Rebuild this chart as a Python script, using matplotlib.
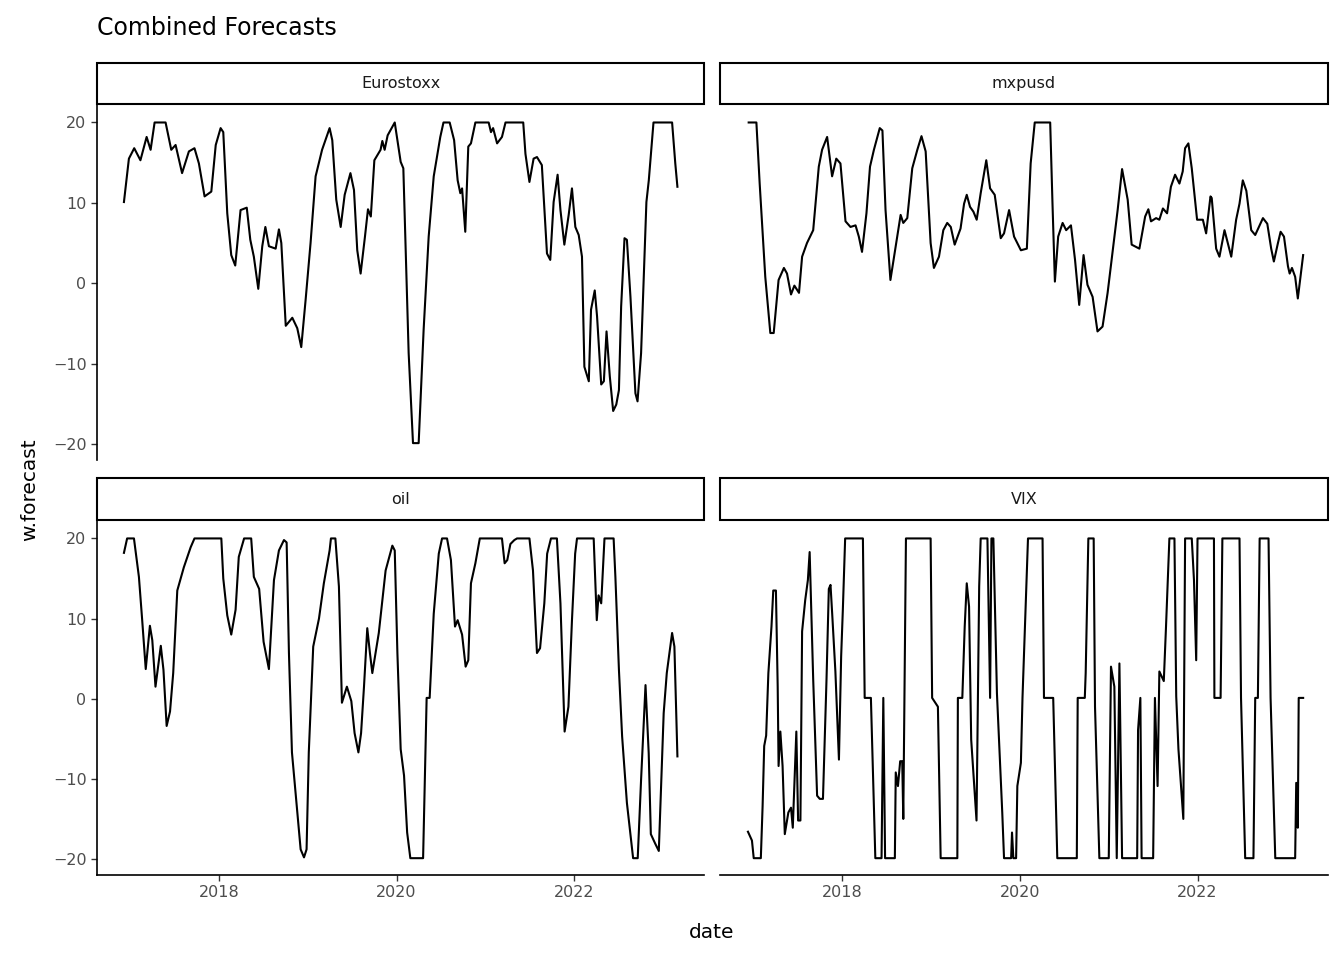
import matplotlib
matplotlib.use("Agg")
import matplotlib.pyplot as plt
from matplotlib.patches import Rectangle

# (decimal year, value) pairs
eurostoxx_t = [2016.924, 2016.98, 2017.04, 2017.11, 2017.18, 2017.225, 2017.27, 2017.394, 2017.458, 2017.507,
               2017.58, 2017.657, 2017.72, 2017.77, 2017.834, 2017.91, 2017.96, 2018.015, 2018.045, 2018.09,
               2018.135, 2018.18, 2018.24, 2018.31, 2018.35, 2018.39, 2018.44, 2018.485, 2018.52, 2018.56,
               2018.636, 2018.673, 2018.70, 2018.75, 2018.824, 2018.88, 2018.925, 2018.974, 2019.03, 2019.087,
               2019.16, 2019.245, 2019.275, 2019.32, 2019.37, 2019.415, 2019.48, 2019.52, 2019.557, 2019.595,
               2019.644, 2019.678, 2019.71, 2019.75, 2019.82, 2019.84, 2019.866, 2019.90, 2019.98, 2020.047,
               2020.077, 2020.137, 2020.186, 2020.25, 2020.306, 2020.363, 2020.42, 2020.494, 2020.53, 2020.6,
               2020.65, 2020.69, 2020.72, 2020.74, 2020.776, 2020.81, 2020.84, 2020.89, 2021.04, 2021.066,
               2021.09, 2021.135, 2021.19, 2021.23, 2021.43, 2021.455, 2021.50, 2021.547, 2021.585, 2021.64,
               2021.698, 2021.735, 2021.773, 2021.818, 2021.85, 2021.894, 2021.943, 2021.98, 2022.018, 2022.056,
               2022.093, 2022.12, 2022.17, 2022.195, 2022.237, 2022.263, 2022.31, 2022.34, 2022.37, 2022.407,
               2022.445, 2022.48, 2022.51, 2022.535, 2022.573, 2022.6, 2022.64, 2022.696, 2022.72, 2022.76,
               2022.82, 2022.847, 2022.9, 2023.11, 2023.146, 2023.17]
eurostoxx_v = [10.1, 15.5, 16.8, 15.3, 18.2, 16.6, 20, 20, 16.6, 17.2,
               13.7, 16.4, 16.8, 14.9, 10.8, 11.4, 17.2, 19.3, 18.8, 8.7,
               3.5, 2.2, 9.1, 9.4, 5.4, 3.3, -0.7, 4.6, 7.0, 4.6,
               4.3, 6.7, 5.0, -5.3, -4.3, -5.6, -7.95, -2.1, 5.0, 13.3,
               16.6, 19.3, 17.8, 10.4, 7.0, 11.0, 13.7, 11.6, 4.1, 1.2,
               5.8, 9.2, 8.3, 15.3, 16.6, 17.7, 16.6, 18.4, 20, 15.1,
               14.3, -8.7, -19.9, -19.9, -5.8, 5.8, 13.3, 18.2, 20, 20,
               17.8, 12.8, 11.2, 11.8, 6.4, 17.0, 17.4, 20, 20, 18.8,
               19.3, 17.4, 18.2, 20, 20, 16.1, 12.6, 15.5, 15.7, 14.7,
               3.7, 2.9, 10.1, 13.5, 9.1, 4.8, 8.5, 11.8, 7.0, 6.0,
               3.3, -10.4, -12.2, -3.3, -0.9, -4.1, -12.6, -12.2, -6.0, -11.6,
               -15.9, -15.1, -13.3, -2.9, 5.6, 5.4, -1.7, -13.7, -14.7, -8.7,
               10.1, 12.8, 20, 20, 14.9, 12.0]

mxpusd_t = [2016.943, 2017.03, 2017.067, 2017.13, 2017.187, 2017.225, 2017.28, 2017.34, 2017.375, 2017.42,
            2017.458, 2017.51, 2017.545, 2017.60, 2017.67, 2017.733, 2017.77, 2017.827, 2017.883, 2017.93,
            2017.977, 2018.034, 2018.09, 2018.147, 2018.184, 2018.22, 2018.27, 2018.31, 2018.354, 2018.42,
            2018.45, 2018.485, 2018.54, 2018.6, 2018.655, 2018.685, 2018.73, 2018.786, 2018.843, 2018.89,
            2018.937, 2018.993, 2019.03, 2019.087, 2019.136, 2019.18, 2019.22, 2019.264, 2019.33, 2019.37,
            2019.4, 2019.437, 2019.475, 2019.512, 2019.557, 2019.62, 2019.663, 2019.715, 2019.783, 2019.82,
            2019.877, 2019.933, 2020.01, 2020.077, 2020.12, 2020.166, 2020.34, 2020.366, 2020.393, 2020.43,
            2020.48, 2020.52, 2020.574, 2020.62, 2020.667, 2020.716, 2020.76, 2020.818, 2020.873, 2020.93,
            2020.987, 2021.063, 2021.1, 2021.15, 2021.213, 2021.258, 2021.345, 2021.41, 2021.446, 2021.476,
            2021.533, 2021.57, 2021.61, 2021.657, 2021.70, 2021.747, 2021.796, 2021.833, 2021.86, 2021.897,
            2021.935, 2021.995, 2022.06, 2022.097, 2022.146, 2022.16, 2022.21, 2022.247, 2022.304, 2022.38,
            2022.435, 2022.473, 2022.51, 2022.55, 2022.605, 2022.65, 2022.737, 2022.786, 2022.83, 2022.86,
            2022.906, 2022.936, 2022.974, 2023.019, 2023.038, 2023.064, 2023.1, 2023.13, 2023.19]
mxpusd_v = [20, 20, 12.4, 0.8, -6.2, -6.2, 0.4, 1.9, 1.2, -1.4,
            -0.3, -1.2, 3.3, 5.0, 6.6, 14.5, 16.6, 18.2, 13.3, 15.5,
            14.9, 7.7, 7.0, 7.2, 5.8, 3.9, 8.7, 14.5, 16.6, 19.3,
            19.0, 9.1, 0.4, 4.6, 8.5, 7.5, 8.1, 14.3, 16.6, 18.3,
            16.4, 5.0, 1.9, 3.3, 6.6, 7.5, 7.0, 4.8, 6.8, 9.9,
            11.0, 9.5, 8.9, 7.9, 11.2, 15.3, 11.8, 11.0, 5.6, 6.2,
            9.1, 5.8, 4.1, 4.3, 14.9, 20, 20, 9.9, 0.2, 5.8,
            7.5, 6.6, 7.2, 2.9, -2.7, 3.5, -0.2, -1.7, -6.0, -5.4,
            -1.2, 5.8, 9.1, 14.2, 10.4, 4.8, 4.3, 8.3, 9.2, 7.7,
            8.1, 7.9, 9.3, 8.7, 12.0, 13.5, 12.4, 13.9, 16.8, 17.4,
            14.3, 7.9, 7.9, 6.2, 10.8, 10.6, 4.3, 3.3, 6.6, 3.3,
            7.9, 9.9, 12.8, 11.5, 6.6, 6.0, 8.1, 7.4, 4.3, 2.7,
            5.0, 6.4, 5.8, 2.1, 1.2, 1.9, 0.8, -1.9, 3.5]

oil_t = [2016.924, 2016.96, 2017.037, 2017.093, 2017.13, 2017.17, 2017.217, 2017.244, 2017.28, 2017.34,
         2017.37, 2017.406, 2017.444, 2017.48, 2017.526, 2017.60, 2017.677, 2017.72, 2018.023, 2018.045,
         2018.09, 2018.135, 2018.184, 2018.22, 2018.28, 2018.36, 2018.39, 2018.45, 2018.50, 2018.56,
         2018.617, 2018.673, 2018.73, 2018.76, 2018.786, 2018.82, 2018.88, 2018.918, 2018.956, 2018.985,
         2019.01, 2019.06, 2019.125, 2019.18, 2019.245, 2019.26, 2019.31, 2019.35, 2019.384, 2019.44,
         2019.49, 2019.527, 2019.57, 2019.6, 2019.633, 2019.67, 2019.7, 2019.727, 2019.764, 2019.80,
         2019.84, 2019.877, 2019.953, 2019.98, 2020.01, 2020.047, 2020.085, 2020.12, 2020.156, 2020.3,
         2020.34, 2020.374, 2020.42, 2020.477, 2020.514, 2020.57, 2020.614, 2020.66, 2020.69, 2020.74,
         2020.78, 2020.81, 2020.84, 2020.89, 2020.94, 2021.19, 2021.22, 2021.25, 2021.285, 2021.33,
         2021.36, 2021.5, 2021.54, 2021.585, 2021.62, 2021.668, 2021.7, 2021.743, 2021.81, 2021.85,
         2021.897, 2021.94, 2021.98, 2022.016, 2022.037, 2022.225, 2022.26, 2022.28, 2022.31, 2022.347,
         2022.45, 2022.47, 2022.51, 2022.546, 2022.6, 2022.67, 2022.722, 2022.76, 2022.81, 2022.846,
         2022.87, 2022.92, 2022.96, 2023.015, 2023.05, 2023.11, 2023.136, 2023.17]
oil_v = [18.2, 20, 20, 15.2, 9.8, 3.7, 9.1, 7.3, 1.5, 6.6,
         3.6, -3.4, -1.6, 3.2, 13.5, 16.4, 18.9, 20, 20, 15.0,
         10.4, 8.0, 11.1, 17.7, 20, 20, 15.2, 13.7, 7.1, 3.7,
         14.8, 18.5, 19.8, 19.5, 5.7, -6.7, -14.2, -18.8, -19.8, -18.8,
         -6.7, 6.5, 10.0, 14.4, 18.5, 20, 20, 14.0, -0.5, 1.5,
         -0.3, -4.3, -6.7, -4.3, 1.5, 8.8, 5.7, 3.2, 5.7, 8.2,
         12.3, 16.0, 19.1, 18.5, 5.7, -6.3, -9.6, -16.7, -19.9, -19.9,
         0.1, 0.1, 10.6, 18.1, 20, 20, 17.3, 9.0, 9.8, 8.0,
         4.0, 4.8, 14.4, 16.9, 20, 20, 16.9, 17.3, 19.3, 19.8,
         20, 20, 16.0, 5.7, 6.3, 11.9, 18.1, 20, 20, 11.9,
         -4.1, -1.0, 9.8, 18.1, 20, 20, 9.8, 12.9, 11.9, 20,
         20, 15.2, 3.6, -4.7, -13.0, -19.9, -19.9, -10.1, 1.7, -6.8,
         -16.9, -18.1, -19.0, -1.8, 3.2, 8.2, 6.5, -7.2]

vix_t = [2016.935, 2016.98, 2017.0, 2017.08, 2017.1, 2017.118, 2017.14, 2017.165, 2017.2, 2017.22,
         2017.25, 2017.27, 2017.28, 2017.3, 2017.325, 2017.35, 2017.39, 2017.42, 2017.44, 2017.48,
         2017.5, 2017.526, 2017.545, 2017.58, 2017.61, 2017.63, 2017.67, 2017.714, 2017.744, 2017.78,
         2017.82, 2017.846, 2017.865, 2017.884, 2017.92, 2017.96, 2017.985, 2018.004, 2018.03, 2018.23,
         2018.25, 2018.32, 2018.35, 2018.37, 2018.44, 2018.46, 2018.48, 2018.59, 2018.6, 2018.625,
         2018.65, 2018.673, 2018.685, 2018.715, 2018.993, 2019.01, 2019.075, 2019.106, 2019.294, 2019.3,
         2019.35, 2019.377, 2019.4, 2019.426, 2019.45, 2019.51, 2019.54, 2019.557, 2019.633, 2019.663,
         2019.678, 2019.7, 2019.74, 2019.8, 2019.82, 2019.9, 2019.91, 2019.925, 2019.956, 2019.97,
         2020.01, 2020.028, 2020.055, 2020.09, 2020.254, 2020.27, 2020.374, 2020.42, 2020.64, 2020.65,
         2020.73, 2020.74, 2020.77, 2020.83, 2020.845, 2020.894, 2021.0, 2021.025, 2021.063, 2021.09,
         2021.12, 2021.15, 2021.32, 2021.33, 2021.356, 2021.37, 2021.5, 2021.52, 2021.55, 2021.57,
         2021.62, 2021.645, 2021.683, 2021.74, 2021.76, 2021.785, 2021.84, 2021.86, 2021.935, 2021.96,
         2021.985, 2022.0, 2022.185, 2022.19, 2022.26, 2022.28, 2022.473, 2022.49, 2022.537, 2022.63,
         2022.65, 2022.68, 2022.7, 2022.8, 2022.823, 2022.876, 2023.1, 2023.112, 2023.13, 2023.14,
         2023.19]
vix_v = [-16.6, -17.7, -19.9, -19.9, -13.4, -5.9, -4.6, 3.2, 9.0, 13.5,
         13.5, 1.5, -8.4, -4.1, -8.4, -16.9, -14.2, -13.6, -16.1, -4.1,
         -15.2, -15.2, 8.4, 12.3, 14.8, 18.3, 2.4, -12.1, -12.5, -12.5,
         2.4, 13.7, 14.2, 10.6, 3.4, -7.6, 5.3, 11.1, 20, 20,
         0.1, 0.1, -12.1, -19.9, -19.9, 0.1, -19.9, -19.9, -9.2, -10.9,
         -7.8, -7.8, -15.0, 20, 20, 0.1, -1.0, -19.9, -19.9, 0.1,
         0.1, 9.0, 14.4, 11.5, -5.1, -15.2, 14.0, 20, 20, 0.1,
         20, 20, 0.7, -14.2, -19.9, -19.9, -16.7, -19.9, -19.9, -10.9,
         -8.0, 0.1, 8.6, 20, 20, 0.1, 0.1, -19.9, -19.9, 0.1,
         0.1, 3.2, 20, 20, -1.0, -19.9, -19.9, 4.0, 1.5, -19.9,
         4.4, -19.9, -19.9, -3.9, 0.1, -19.9, -19.9, 0.1, -10.9, 3.4,
         2.2, 9.0, 20, 20, 0.3, -6.3, -15.0, 20, 20, 14.8,
         4.8, 20, 20, 0.1, 0.1, 20, 20, 0.1, -19.9, -19.9,
         0.1, 0.1, 20, 20, 0.1, -19.9, -19.9, -10.5, -16.1, 0.1,
         0.1]

panels = [("Eurostoxx", eurostoxx_t, eurostoxx_v),
          ("mxpusd", mxpusd_t, mxpusd_v),
          ("oil", oil_t, oil_v),
          ("VIX", vix_t, vix_v)]

W, H = 1344, 960
fig = plt.figure(figsize=(W / 100, H / 100), dpi=100)

# panel boxes in pixels: (left, top, right, bottom)
cols = [(97, 704), (720, 1328)]
rows = [(63, 104, 460), (478, 520, 875)]

for i, (name, t, v) in enumerate(panels):
    r, c = divmod(i, 2)
    x0, x1 = cols[c]
    s0, y0, y1 = rows[r]
    ax = fig.add_axes([x0 / W, 1 - y1 / H, (x1 - x0) / W, (y1 - y0) / H])
    ax.plot(t, v, color="black", lw=1.5)
    ax.set_xlim(2016.62, 2023.47)
    ax.set_ylim(-22.0, 22.3)
    ax.set_xticks([2018, 2020, 2022])
    ax.set_yticks([-20, -10, 0, 10, 20])
    for sp in ax.spines.values():
        sp.set_visible(False)
    ax.tick_params(colors="#333333", labelsize=11.5, length=4, width=1)
    ax.tick_params(axis="both", labelcolor="#4d4d4d")
    if c == 0:
        ax.spines["left"].set_visible(True)
        ax.spines["left"].set_linewidth(1.2)
    else:
        ax.tick_params(axis="y", left=False, labelleft=False)
    if r == 1:
        ax.spines["bottom"].set_visible(True)
        ax.spines["bottom"].set_linewidth(1.2)
    else:
        ax.tick_params(axis="x", bottom=False, labelbottom=False)

    # facet strip
    fig.patches.append(Rectangle((x0 / W, 1 - y0 / H), (x1 - x0) / W, (y0 - s0) / H,
                                 transform=fig.transFigure, facecolor="white",
                                 edgecolor="black", lw=1.5))
    fig.text((x0 + x1) / 2 / W, 1 - (s0 + y0) / 2 / H, name, ha="center", va="center",
             fontsize=11.5, color="#1a1a1a")

fig.text(97 / W, 1 - 28 / H, "Combined Forecasts", ha="left", va="center", fontsize=17)
fig.text(712 / W, 1 - 932 / H, "date", ha="center", va="center", fontsize=14.5)
fig.text(30 / W, 1 - 490 / H, "w.forecast", ha="center", va="center", rotation=90, fontsize=14.5)

fig.savefig("out.png", dpi=100)
